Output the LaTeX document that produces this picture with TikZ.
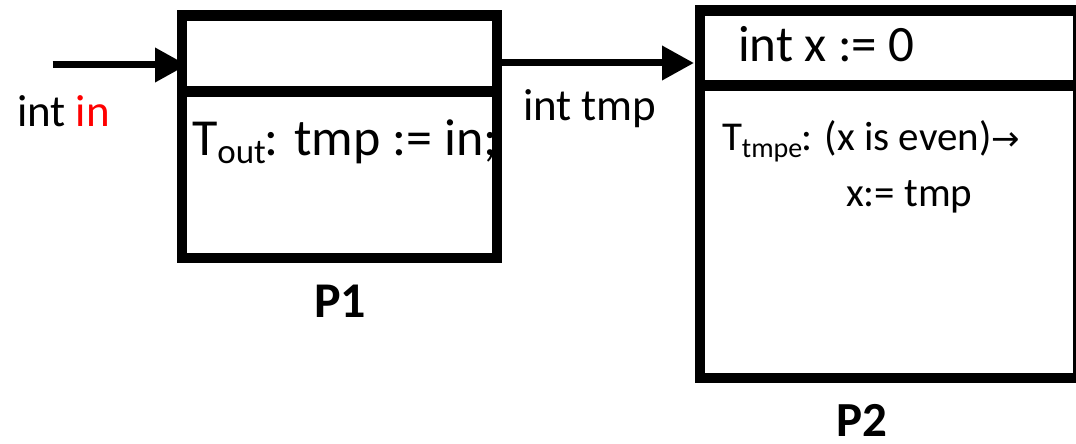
\documentclass[tikz,border=0pt]{standalone}
\usepackage{fontspec}
\setmainfont{Carlito}
\newfontfamily\arrowfont{DejaVu Sans}
\usetikzlibrary{arrows.meta}
\begin{document}
\begin{tikzpicture}[x=1pt,y=-1pt,
  procbox/.style={draw, line width=10.5pt, inner sep=0pt, outer sep=0pt, anchor=north west},
  divider/.style={line width=10.5pt},
  conn/.style={line width=7pt, -{Triangle[length=32pt,width=33pt]}},
  lbl/.style={anchor=base west, inner sep=0pt, outer sep=0pt, text=black},
]
\useasboundingbox (0,0) rectangle (1076,444);

% texts
\node[lbl] (inlbl) at (17,126.7) {\fontsize{45}{54}\selectfont int \textcolor{red}{in}};
\node[lbl] (tmplbl) at (523,120) {\fontsize{45}{54}\selectfont int tmp};
\node[lbl] (tout) at (192,155) {\fontsize{52}{60}\selectfont T\raisebox{-8pt}{\fontsize{35}{35}\selectfont out}\kern-1pt: tmp := in;};
\node[lbl] (xinit) at (738,61.7) {\fontsize{51}{60}\selectfont int x := 0};
\node[lbl] (ttmpe) at (722,150) {\fontsize{41}{48}\selectfont T\raisebox{-7pt}{\fontsize{28}{28}\selectfont tmpe}\kern-1pt: (x is even){\arrowfont\fontsize{34}{40}\selectfont →}};
\node[lbl] (xassign) at (846,206) {\fontsize{41}{48}\selectfont x:= tmp};
\node[lbl] (p1lbl) at (314,317) {\fontsize{50}{60}\selectfont\bfseries P1};
\node[lbl] (p2lbl) at (836,436) {\fontsize{49}{58}\selectfont\bfseries P2};

% boxes
\node[procbox, minimum width=315pt, minimum height=242.3pt] (p1) at (182,15.7) {};
\node[procbox, minimum width=378pt, minimum height=367.3pt] (p2) at (700,10.7) {};
\coordinate (d1) at (0,91.3);
\coordinate (d2) at (0,85.3);
\draw[divider] (p1.west |- d1) -- (p1.east |- d1);
\draw[divider] (p2.west |- d2) -- (p2.east |- d2);

% connectors
\coordinate (src) at (52.7,65);
\coordinate (a2) at (0,63);
\draw[conn, shorten >=-5pt] (src) -- (p1.west |- src);
\draw[conn, shorten >=6pt] (p1.east |- a2) -- (p2.west |- a2);
\end{tikzpicture}
\end{document}
